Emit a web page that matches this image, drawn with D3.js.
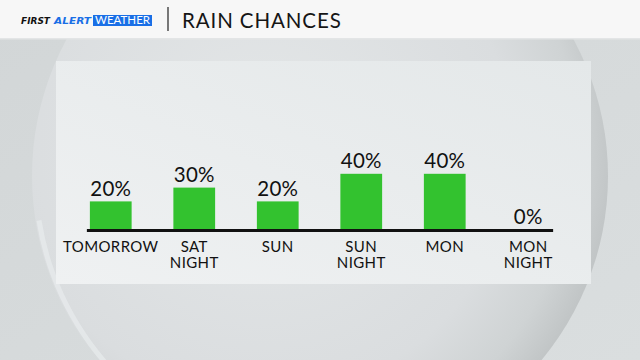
<!DOCTYPE html>
<html>
<head>
<meta charset="utf-8">
<script src="https://cdn.jsdelivr.net/npm/d3@7"></script>
<style>
  html, body { margin: 0; padding: 0; background: #d5d9da; }
  svg { display: block; }
</style>
</head>
<body>
<svg id="chart" width="640" height="360"></svg>
<script>
const categories = ["TOMORROW", "SAT|NIGHT", "SUN", "SUN|NIGHT", "MON", "MON|NIGHT"];
const chances = [20, 30, 20, 40, 40, 0];
const title = "RAIN CHANCES";

const width = 640, height = 360;
const svg = d3.select("#chart");
const defs = svg.append("defs");

// backdrop + sphere
const bg = defs.append("linearGradient").attr("id", "bg").attr("x1", 0).attr("y1", 0).attr("x2", 1).attr("y2", 1);
bg.append("stop").attr("offset", "0%").attr("stop-color", "#d2d6d7");
bg.append("stop").attr("offset", "100%").attr("stop-color", "#dadedf");
svg.append("rect").attr("width", width).attr("height", height).attr("fill", "url(#bg)");

const sphere = defs.append("radialGradient").attr("id", "sphere")
    .attr("cx", "40%").attr("cy", "45%").attr("r", "62%");
sphere.append("stop").attr("offset", "0%").attr("stop-color", "#e4e7e8");
sphere.append("stop").attr("offset", "70%").attr("stop-color", "#dadddf");
sphere.append("stop").attr("offset", "88%").attr("stop-color", "#cfd3d4");
sphere.append("stop").attr("offset", "100%").attr("stop-color", "#bfc3c4");
svg.append("circle").attr("cx", 320).attr("cy", 176).attr("r", 288).attr("fill", "url(#sphere)");
svg.append("path")
    .attr("d", d3.arc()({innerRadius: 282, outerRadius: 287, startAngle: -Math.PI * 0.95, endAngle: -Math.PI * 0.55}))
    .attr("transform", "translate(320,176)")
    .attr("fill", "#e6eaeb").attr("opacity", 0.8);

// panel
const panel = defs.append("linearGradient").attr("id", "panel").attr("x1", 0).attr("y1", 1).attr("x2", 1).attr("y2", 0);
panel.append("stop").attr("offset", "0%").attr("stop-color", "#eff1f2");
panel.append("stop").attr("offset", "100%").attr("stop-color", "#e4e8e9");
svg.append("rect").attr("x", 56).attr("y", 61).attr("width", 535).attr("height", 223).attr("fill", "url(#panel)");

// header
svg.append("rect").attr("width", width).attr("height", 39).attr("fill", "#f7f7f7");
svg.append("rect").attr("y", 38).attr("width", width).attr("height", 1.5).attr("fill", "#e3e5e6");

const logo = svg.append("g").attr("font-family", "'DejaVu Sans', sans-serif").attr("font-weight", "bold")
    .attr("font-style", "italic").attr("font-size", 9.5);
logo.append("text").attr("x", 21).attr("y", 23.5).attr("fill", "#111")
    .attr("textLength", 29).attr("lengthAdjust", "spacingAndGlyphs").text("FIRST");
logo.append("text").attr("x", 54).attr("y", 23.5).attr("fill", "#1a6fe6")
    .attr("textLength", 37).attr("lengthAdjust", "spacingAndGlyphs").text("ALERT");
logo.append("rect").attr("x", 93).attr("y", 15).attr("width", 59).attr("height", 11).attr("fill", "#1a6fe6");
logo.append("text").attr("x", 95).attr("y", 24).attr("fill", "#fff").attr("font-style", "normal")
    .attr("font-family", "Lato, sans-serif").attr("font-weight", "400").attr("font-size", 11.5)
    .attr("textLength", 55).attr("lengthAdjust", "spacingAndGlyphs").text("WEATHER");

svg.append("line").attr("x1", 168).attr("x2", 168).attr("y1", 7).attr("y2", 31)
    .attr("stroke", "#222").attr("stroke-width", 1.2);
svg.append("text").attr("x", 182).attr("y", 27.5)
    .attr("font-family", "Lato, sans-serif").attr("font-size", 20.5).attr("letter-spacing", 0.9)
    .attr("fill", "#151515").text(title);

// chart
const data = categories.map((c, i) => ({ cat: c, value: chances[i] }));
const baseY = 229;

const x = d3.scaleBand().domain(categories).range([69, 570]).paddingInner(0.5).paddingOuter(0.25);
const y = d3.scaleLinear().domain([0, 100]).range([baseY, baseY - 138]);

svg.append("g").selectAll("rect")
    .data(data)
    .join("rect")
    .attr("x", d => x(d.cat))
    .attr("y", d => y(d.value))
    .attr("width", x.bandwidth())
    .attr("height", d => y(0) - y(d.value))
    .attr("fill", "#33c22f");

svg.append("line")
    .attr("x1", x(categories[0]) - 3)
    .attr("x2", x(categories[categories.length - 1]) + x.bandwidth() + 4)
    .attr("y1", baseY + 1.5).attr("y2", baseY + 1.5)
    .attr("stroke", "#111").attr("stroke-width", 3);

svg.append("g").selectAll("text")
    .data(data)
    .join("text")
    .attr("x", d => x(d.cat) + x.bandwidth() / 2)
    .attr("y", d => y(d.value) - 5.5)
    .attr("text-anchor", "middle")
    .attr("font-family", "Lato, sans-serif").attr("font-size", 20.5).attr("letter-spacing", 0.3)
    .attr("fill", "#111")
    .text(d => d.value + "%");

// two-line category labels, one text per line
const lines = data.flatMap(d => d.cat.split("|").map((t, i) => ({ cat: d.cat, text: t, line: i })));
svg.append("g").selectAll("text")
    .data(lines)
    .join("text")
    .attr("x", d => x(d.cat) + x.bandwidth() / 2)
    .attr("y", d => 252 + d.line * 16)
    .attr("text-anchor", "middle")
    .attr("font-family", "Lato, sans-serif").attr("font-size", 15).attr("letter-spacing", 0.4)
    .attr("fill", "#111")
    .text(d => d.text);
</script>
</body>
</html>
